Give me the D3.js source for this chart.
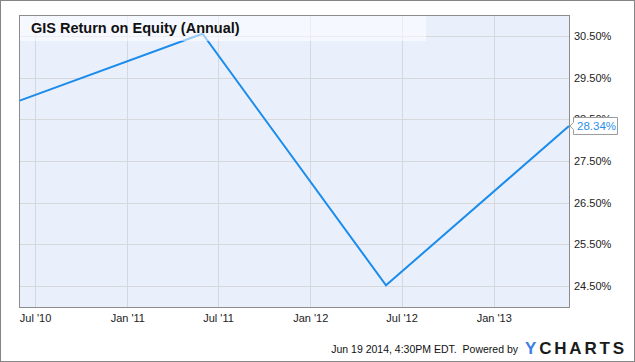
<!DOCTYPE html>
<html>
<head>
<meta charset="utf-8">
<script src="https://cdnjs.cloudflare.com/ajax/libs/d3/7.8.5/d3.min.js"></script>
<style>
  body { margin: 0; background: #fff; }
  svg text { font-family: "Liberation Sans", Arial, sans-serif; }
</style>
</head>
<body>
<script>
// data (fiscal year ends)
var dates = ["2010-05-30", "2011-05-31", "2012-05-31", "2013-05-31"];
var roe = [28.94, 30.55, 24.52, 28.34];
var yTicks = [24.5, 25.5, 26.5, 27.5, 28.5, 29.5, 30.5];
var xTicks = ["2010-07-01", "2011-01-01", "2011-07-01", "2012-01-01", "2012-07-01", "2013-01-01"];
var title = "GIS Return on Equity (Annual)";
var footer = "Jun 19 2014, 4:30PM EDT.  Powered by";

var W = 635, H = 362;
var plot = {left: 19, top: 15, right: 569, bottom: 307};

var parse = d3.utcParse("%Y-%m-%d");
var data = dates.map(function(d, i) { return {date: parse(d), v: roe[i]}; });

var svg = d3.select("body").append("svg")
    .attr("width", W)
    .attr("height", H);

// outer frame
svg.append("rect")
    .attr("x", 0.5).attr("y", 0.5)
    .attr("width", W - 1).attr("height", H - 1)
    .attr("fill", "#fff")
    .attr("stroke", "#858585");

var x = d3.scaleUtc()
    .domain(d3.extent(data, function(d) { return d.date; }))
    .range([plot.left, plot.right]);

var y = d3.scaleLinear()
    .domain([24.0, 31.0])
    .range([plot.bottom, plot.top]);

// plot background
svg.append("rect")
    .attr("x", plot.left).attr("y", plot.top)
    .attr("width", plot.right - plot.left)
    .attr("height", plot.bottom - plot.top)
    .attr("fill", "#e9f0fc");

// grid
svg.append("g").selectAll("line")
    .data(yTicks)
    .join("line")
    .attr("x1", plot.left).attr("x2", plot.right)
    .attr("y1", function(d) { return Math.round(y(d)) + 0.5; })
    .attr("y2", function(d) { return Math.round(y(d)) + 0.5; })
    .attr("stroke", "#d6d8dc");

svg.append("g").selectAll("line")
    .data(xTicks)
    .join("line")
    .attr("x1", function(d) { return Math.round(x(parse(d))) + 0.5; })
    .attr("x2", function(d) { return Math.round(x(parse(d))) + 0.5; })
    .attr("y1", plot.top).attr("y2", plot.bottom)
    .attr("stroke", "#d6d8dc");

// the line
svg.append("path")
    .datum(data)
    .attr("fill", "none")
    .attr("stroke", "#1b8ceb")
    .attr("stroke-width", 2)
    .attr("stroke-linejoin", "miter")
    .attr("d", d3.line()
        .x(function(d) { return x(d.date); })
        .y(function(d) { return y(d.v); }));

// title band over the plot
svg.append("rect")
    .attr("x", plot.left).attr("y", plot.top)
    .attr("width", 407).attr("height", 26)
    .attr("fill", "#fff")
    .attr("opacity", 0.55);

svg.append("text")
    .attr("x", 31).attr("y", 33)
    .attr("font-size", 14.5)
    .attr("font-weight", "bold")
    .attr("fill", "#111")
    .text(title);

// plot border
svg.append("rect")
    .attr("x", plot.left + 0.5).attr("y", plot.top + 0.5)
    .attr("width", plot.right - plot.left)
    .attr("height", plot.bottom - plot.top)
    .attr("fill", "none")
    .attr("stroke", "#8c8c8c");

// right axis
var yAxis = d3.axisRight(y)
    .tickValues(yTicks)
    .tickSize(0)
    .tickPadding(5)
    .tickFormat(function(d) { return d3.format(".2f")(d) + "%"; });

svg.append("g")
    .attr("transform", "translate(" + plot.right + ",0)")
    .call(yAxis)
    .call(function(g) { g.select(".domain").remove(); })
    .selectAll("text")
    .attr("font-size", 11)
    .attr("fill", "#222")
    .style("font-family", "Liberation Sans, Arial, sans-serif");

// bottom axis
var xAxis = d3.axisBottom(x)
    .tickValues(xTicks.map(parse))
    .tickSize(0)
    .tickPadding(7)
    .tickFormat(d3.utcFormat("%b '%y"));

svg.append("g")
    .attr("transform", "translate(0," + plot.bottom + ")")
    .call(xAxis)
    .call(function(g) { g.select(".domain").remove(); })
    .selectAll("text")
    .attr("font-size", 11)
    .attr("fill", "#222")
    .style("font-family", "Liberation Sans, Arial, sans-serif");

// last value flag
var last = data[data.length - 1];
var lx = x(last.date), ly = y(last.v);
svg.append("path")
    .attr("d", "M" + (lx + 1) + "," + ly +
        "L" + (lx + 4.5) + "," + (ly - 3.5) +
        "L" + (lx + 4.5) + "," + (ly - 8.5) +
        "L" + (lx + 48.5) + "," + (ly - 8.5) +
        "L" + (lx + 48.5) + "," + (ly + 8.5) +
        "L" + (lx + 4.5) + "," + (ly + 8.5) +
        "L" + (lx + 4.5) + "," + (ly + 3.5) + "Z")
    .attr("fill", "#fff")
    .attr("stroke", "#9a9a9a");

svg.append("text")
    .attr("x", lx + 8).attr("y", ly + 4)
    .attr("font-size", 11.5)
    .attr("fill", "#2b8fe8")
    .text(d3.format(".2f")(last.v) + "%");

// footer
svg.append("text")
    .attr("x", 518).attr("y", 353)
    .attr("text-anchor", "end")
    .attr("font-size", 10.5)
    .attr("fill", "#111")
    .style("white-space", "pre")
    .text(footer);

var logo = svg.append("text")
    .attr("x", 525).attr("y", 354)
    .attr("font-size", 17)
    .attr("font-weight", "bold")
    .attr("textLength", 99)
    .attr("lengthAdjust", "spacing");
logo.append("tspan").attr("fill", "#3a7ee6").text("Y");
logo.append("tspan").attr("fill", "#1b1b1b").text("CHARTS");
</script>
</body>
</html>
